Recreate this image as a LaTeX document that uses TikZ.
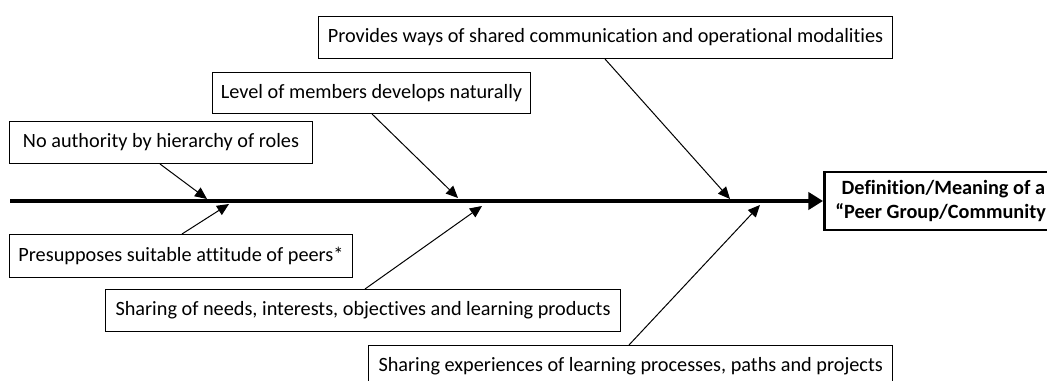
\documentclass[tikz,border=0pt]{standalone}
\usepackage{fontspec}
\setmainfont{Carlito}[Ligatures=NoCommon]
\usetikzlibrary{arrows.meta,calc}
\begin{document}
\begin{tikzpicture}[x=0.75pt,y=-0.75pt,
  box/.style={draw=black,line width=0.75pt,rectangle,inner sep=0pt,anchor=north west,font=\fontsize{15.2}{18}\selectfont},
  arr/.style={line width=0.75pt,-{Triangle[length=9pt,width=8pt]}},
  mainarr/.style={line width=2.4pt,-{Triangle[length=11pt,width=13pt]}},
  defbox/.style={draw=black,line width=2pt,rectangle,inner sep=0pt,align=center,font=\bfseries\fontsize{15.2}{18.5}\selectfont}]
\useasboundingbox (0,0) rectangle (1047,381);
\clip (0,0) rectangle (1047,381);
% boxes
\node[box,minimum width=303*0.75pt,minimum height=42*0.75pt] (na) at (9,121) {No authority by hierarchy of roles};
\node[box,minimum width=343*0.75pt,minimum height=43*0.75pt] (pr) at (9,234) {Presupposes suitable attitude of peers*};
\node[box,minimum width=318*0.75pt,minimum height=41*0.75pt] (lv) at (212,72) {Level of members develops naturally};
\node[box,minimum width=574*0.75pt,minimum height=42*0.75pt] (pw) at (318,16) {Provides ways of shared communication and operational modalities};
\node[box,inner xsep=10*0.75pt,minimum height=42*0.75pt,anchor=north east] (sn) at (621,289) {Sharing of needs, interests, objectives and learning products};
\node[box,inner xsep=10*0.75pt,minimum height=42*0.75pt] (se) at (368,345) {Sharing experiences of learning processes, paths and projects};
\node[defbox,minimum width=238*0.75pt,minimum height=58*0.75pt,anchor=west] (def) at (823,201) {Definition/Meaning of a\\“Peer Group/Community‘};
% tips
\coordinate (ms) at (10,201);
\coordinate (tna) at (207,199);
\coordinate (tpr) at (229,204);
\coordinate (tlv) at (458,198);
\coordinate (tsn) at (482,206);
\coordinate (tpw) at (730,199);
\coordinate (tse) at (760,205);
% main spine
\draw[mainarr] (ms) -- (def.west);
% branches
\draw[arr] ($(na.south west)+(151,0)$) -- (tna);
\draw[arr] ($(pr.north west)+(173,0)$) -- (tpr);
\draw[arr] ($(lv.south west)+(160,0)$) -- (tlv);
\draw[arr] ($(sn.north east)+(-256,0)$) -- (tsn);
\draw[arr] ($(pw.south west)+(287,0)$) -- (tpw);
\draw[arr] ($(se.north west)+(261,0)$) -- (tse);
\end{tikzpicture}
\end{document}
